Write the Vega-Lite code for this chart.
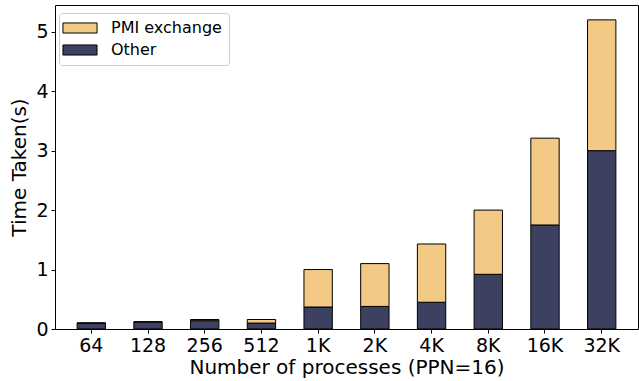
{
  "$schema": "https://vega.github.io/schema/vega-lite/v6.json",
  "width": 583,
  "height": 324,
  "autosize": "none",
  "padding": {"left": 55, "top": 5, "right": 1, "bottom": 52},
  "background": "white",
  "config": {
    "font": "DejaVu Sans",
    "view": {"stroke": "black", "strokeWidth": 1},
    "axis": {"grid": false, "domain": false, "tickColor": "black", "tickSize": 4, "labelColor": "black", "titleColor": "black", "labelFontSize": 19, "titleFontSize": 20, "titleFontWeight": "normal", "labelFont": "DejaVu Sans", "titleFont": "DejaVu Sans"}
  },
  "data": {
    "values": [
      {"procs": "64", "series": "Other", "time": 0.10, "ord": 0},
      {"procs": "64", "series": "PMI exchange", "time": 0.0, "ord": 1},
      {"procs": "128", "series": "Other", "time": 0.12, "ord": 0},
      {"procs": "128", "series": "PMI exchange", "time": 0.0, "ord": 1},
      {"procs": "256", "series": "Other", "time": 0.14, "ord": 0},
      {"procs": "256", "series": "PMI exchange", "time": 0.02, "ord": 1},
      {"procs": "512", "series": "Other", "time": 0.10, "ord": 0},
      {"procs": "512", "series": "PMI exchange", "time": 0.06, "ord": 1},
      {"procs": "1K", "series": "Other", "time": 0.37, "ord": 0},
      {"procs": "1K", "series": "PMI exchange", "time": 0.63, "ord": 1},
      {"procs": "2K", "series": "Other", "time": 0.38, "ord": 0},
      {"procs": "2K", "series": "PMI exchange", "time": 0.72, "ord": 1},
      {"procs": "4K", "series": "Other", "time": 0.45, "ord": 0},
      {"procs": "4K", "series": "PMI exchange", "time": 0.98, "ord": 1},
      {"procs": "8K", "series": "Other", "time": 0.92, "ord": 0},
      {"procs": "8K", "series": "PMI exchange", "time": 1.08, "ord": 1},
      {"procs": "16K", "series": "Other", "time": 1.75, "ord": 0},
      {"procs": "16K", "series": "PMI exchange", "time": 1.46, "ord": 1},
      {"procs": "32K", "series": "Other", "time": 3.0, "ord": 0},
      {"procs": "32K", "series": "PMI exchange", "time": 2.2, "ord": 1}
    ]
  },
  "mark": {"type": "bar", "stroke": "black", "strokeWidth": 1},
  "encoding": {
    "x": {
      "field": "procs", "type": "nominal",
      "sort": ["64", "128", "256", "512", "1K", "2K", "4K", "8K", "16K", "32K"],
      "scale": {"paddingInner": 0.5, "paddingOuter": 0.39},
      "axis": {"labelAngle": 0, "title": "Number of processes (PPN=16)", "titlePadding": 2, "labelPadding": 3, "titleColor": "black"}
    },
    "y": {
      "field": "time", "type": "quantitative", "stack": "zero",
      "scale": {"domain": [0, 5.45], "nice": false, "zero": true},
      "axis": {"title": "Time Taken(s)", "values": [0, 1, 2, 3, 4, 5], "titlePadding": 6, "labelPadding": 3, "titleColor": "black"}
    },
    "color": {
      "field": "series", "type": "nominal",
      "scale": {"domain": ["PMI exchange", "Other"], "range": ["#f3c986", "#3d4161"]},
      "legend": {
        "title": null, "orient": "none", "legendX": 4, "legendY": 8,
        "labelFontSize": 16, "labelColor": "black", "labelFont": "DejaVu Sans",
        "symbolType": "M-2.85,-1.3H5.95V1.3H-2.85Z", "symbolSize": 60, "symbolStrokeColor": "black", "symbolStrokeWidth": 1,
        "rowPadding": 6, "labelOffset": 29,
        "padding": 7, "strokeColor": "#cccccc", "fillColor": "white", "cornerRadius": 3
      }
    },
    "order": {"field": "ord", "type": "quantitative"}
  }
}
